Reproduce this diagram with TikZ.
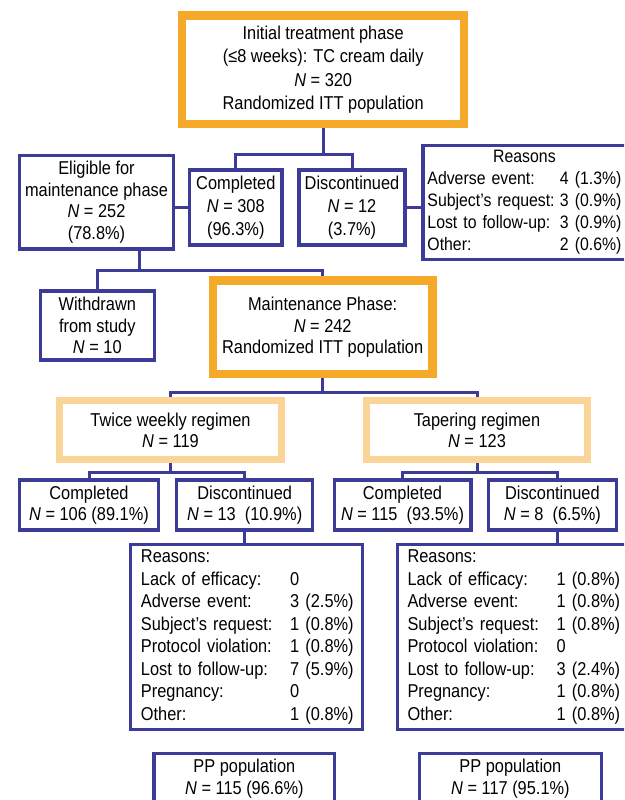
\documentclass[tikz,border=0pt]{standalone}
\usepackage{fontspec}
\setmainfont{Liberation Sans}[FakeStretch=0.88]
\usepackage{tikz}
\usetikzlibrary{positioning,calc,backgrounds}
\definecolor{fblue}{HTML}{3D3B98}
\definecolor{forange}{HTML}{F6A829}
\definecolor{flight}{HTML}{FBD497}
\tikzset{
 box/.style={draw=fblue,line width=3.3pt,fill=white,align=center,inner sep=2pt,
   font=\fontsize{18.6}{22.5}\selectfont},
 phasebox/.style={box,draw=forange,line width=8.5pt},
 armbox/.style={box,draw=flight,line width=7pt},
 reasonbox/.style={box,align=left,anchor=west,inner ysep=2pt},
 link/.style={draw=fblue,line width=3pt}
}

\begin{document}
\begin{tikzpicture}[x=1pt,y=-1pt]
 \useasboundingbox (0,0) rectangle (624,800);
 \clip (0,0) rectangle (624,800);
 % initial phase
 \node[phasebox,minimum width=282pt,minimum height=108.8pt,font=\fontsize{18.6}{23.3}\selectfont] (init) at (323.2,69.7)
   {Initial treatment phase\\(≤8 weeks): TC cream daily\\\textit{N} = 320\\Randomized ITT population};
 \node[box,minimum width=92.6pt,minimum height=75.1pt,font=\fontsize{18.6}{23}\selectfont] (done) at (235.8,207.5)
   {Completed\\\textit{N} = 308\\(96.3\%)};
 \node[box,minimum width=106.1pt,minimum height=75.1pt,font=\fontsize{18.6}{23}\selectfont] (drop) at (352,207.5)
   {Discontinued\\\textit{N} = 12\\(3.7\%)};
 \node[box,minimum width=153.9pt,minimum height=93.4pt,font=\fontsize{18.6}{21.7}\selectfont] (elig) at (96.5,202.3)
   {Eligible for\\maintenance phase\\\textit{N} = 252\\(78.8\%)};
 \node[reasonbox,minimum height=113.7pt,text width=250pt,inner xsep=4.35pt,font=\fontsize{18}{22}\selectfont] (why) at (421.45,202.5)
   {\begin{tabular*}{194pt}{@{}l@{\extracolsep{\fill}\hspace{3pt}}r@{}}
     \multicolumn{2}{@{}c@{}}{Reasons}\\
     Adverse event: & 4 (1.3\%)\\
     Subject’s request: & 3 (0.9\%)\\
     Lost to follow-up: & 3 (0.9\%)\\
     Other: & 2 (0.6\%)
    \end{tabular*}};
 % maintenance phase
 \node[box,minimum width=114.1pt,minimum height=69.1pt,font=\fontsize{18.6}{21.7}\selectfont] (gone) at (97.3,325.5)
   {Withdrawn\\from study\\\textit{N} = 10};
 \node[phasebox,minimum width=219.1pt,minimum height=93.8pt,font=\fontsize{18.6}{21.7}\selectfont] (maint) at (322.7,327.2)
   {Maintenance Phase:\\\textit{N} = 242\\Randomized ITT population};
 \node[armbox,minimum width=222.6pt,minimum height=58.4pt,font=\fontsize{18.6}{21}\selectfont] (twice) at (170.5,430)
   {Twice weekly regimen\\\textit{N} = 119};
 \node[armbox,minimum width=221pt,minimum height=58.4pt,font=\fontsize{18.6}{21}\selectfont] (taper) at (477,430)
   {Tapering regimen\\\textit{N} = 123};
 \node[box,minimum width=138.8pt,minimum height=50.1pt,font=\fontsize{18.6}{21}\selectfont] (twdone) at (89,505)
   {Completed\\\textit{N} = 106 (89.1\%)};
 \node[box,minimum width=136.1pt,minimum height=50.1pt,font=\fontsize{18.6}{21}\selectfont] (twdrop) at (244.7,505)
   {Discontinued\\\textit{N} = 13\ \ (10.9\%)};
 \node[box,minimum width=136.7pt,minimum height=50.1pt,font=\fontsize{18.6}{21}\selectfont] (tpdone) at (402.5,505)
   {Completed\\\textit{N} = 115\ \ (93.5\%)};
 \node[box,minimum width=128pt,minimum height=50.1pt,font=\fontsize{18.6}{21}\selectfont] (tpdrop) at (552.4,505)
   {Discontinued\\\textit{N} = 8\ \ (6.5\%)};
 \node[reasonbox,minimum height=185pt,text width=210.9pt,inner xsep=10.3pt] (twwhy) at (129,636.9)
   {\begin{tabular}{@{}p{149.2pt}@{}l@{}}
     Reasons: & \\
     Lack of efficacy: & 0\\
     Adverse event: & 3 (2.5\%)\\
     Subject’s request: & 1 (0.8\%)\\
     Protocol violation: & 1 (0.8\%)\\
     Lost to follow-up: & 7 (5.9\%)\\
     Pregnancy: & 0\\
     Other: & 1 (0.8\%)
    \end{tabular}};
 \node[reasonbox,minimum height=185pt,text width=250pt,inner xsep=10.25pt] (tpwhy) at (395.65,636.9)
   {\begin{tabular}{@{}p{149.1pt}@{}l@{}}
     Reasons: & \\
     Lack of efficacy: & 1 (0.8\%)\\
     Adverse event: & 1 (0.8\%)\\
     Subject’s request: & 1 (0.8\%)\\
     Protocol violation: & 0\\
     Lost to follow-up: & 3 (2.4\%)\\
     Pregnancy: & 1 (0.8\%)\\
     Other: & 1 (0.8\%)
    \end{tabular}};
 \node[box,minimum width=180.6pt,minimum height=50.9pt] (twpp) at (244.4,778.8)
   {PP population\\\textit{N} = 115 (96.6\%)};
 \node[box,minimum width=181.8pt,minimum height=50.9pt] (tppp) at (510.4,778.8)
   {PP population\\\textit{N} = 117 (95.1\%)};
 % connectors
 \begin{scope}[on background layer]
  \draw[link] (init.south) -- ++(0,26) coordinate (j1);
  \draw[link] (done.north) |- (j1) -| (drop.north);
  \draw[link] (done.west) -- (done.west -| elig.east);
  \draw[link] (drop.east) -- (drop.east -| why.west);
  \draw[link] ([xshift=42.8pt]elig.south) -- ++(0,20.3) coordinate (j2);
  \draw[link] (gone.north) |- (j2) -| (maint.north);
  \draw[link] (maint.south) -- ++(0,14.2) coordinate (j3);
  \draw[link] (twice.north) |- (j3) -| (taper.north);
  \draw[link] (twice.south) -- ++(0,10.1) coordinate (j4);
  \draw[link] (twdone.north) |- (j4) -| (twdrop.north);
  \draw[link] (taper.south) -- ++(0,10.1) coordinate (j5);
  \draw[link] (tpdone.north) |- (j5) -| ([xshift=4.6pt]tpdrop.north);
  \draw[link] (twdrop.south) -- (twdrop.south |- twwhy.north);
  \draw[link] ([xshift=4.6pt]tpdrop.south) -- ([xshift=4.6pt]tpdrop.south |- tpwhy.north);
 \end{scope}
\end{tikzpicture}
\end{document}
